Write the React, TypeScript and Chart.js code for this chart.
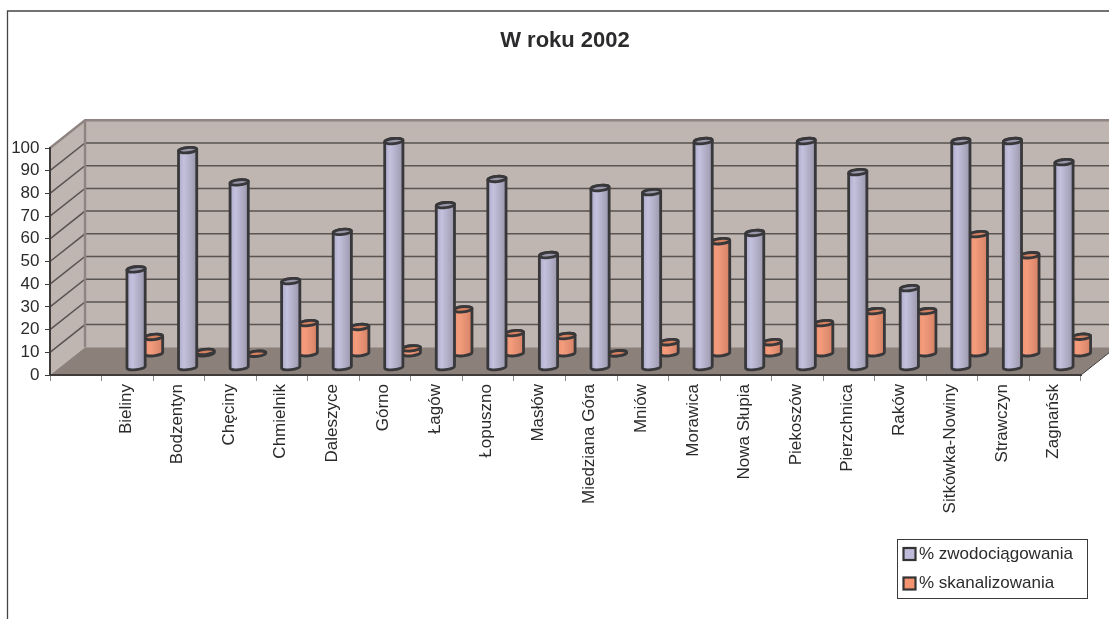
import React, { useEffect, useRef } from "react";
import { Chart, registerables, BarController, BarElement } from "chart.js";

const categories = ["", "Bieliny", "Bodzentyn", "Chęciny", "Chmielnik", "Daleszyce", "Górno", "Łagów", "Łopuszno", "Masłów", "Miedziana Góra", "Mniów", "Morawica", "Nowa Słupia", "Piekoszów", "Pierzchnica", "Raków", "Sitkówka-Nowiny", "Strawczyn", "Zagnańsk"];
const waterValues = [null, 43.5, 96, 81.8, 38.3, 60, 100, 71.8, 83.3, 49.8, 79.3, 77.5, 100, 59.5, 100, 86.3, 35.2, 100, 100, 90.7];
const sewerValues = [null, 7.6, 1, 0.2, 13.7, 12, 2.6, 19.8, 9.3, 8, 0.4, 5.3, 49.8, 5.3, 13.7, 19, 19, 52.9, 43.6, 7.7];
const titleText = "W roku 2002";
const waterLabel = "% zwodociągowania";
const sewerLabel = "% skanalizowania";

const FONT = "'Liberation Sans', Arial, sans-serif";
const DEPTH_X = 35;
const DEPTH_Y = 27.7;
const TEXT = "#2b2b2d";

const palette: Record<string, string[]> = {
  water: ["#aeaacb", "#c4c1de", "#aaa7bf", "#9a96aa", "#bfbcdb"],
  sewer: ["#ec9273", "#f59c7c", "#e08c70", "#d5805f", "#f4936f"],
};

class CylinderElement extends (BarElement as any) {
  static id = "cylinder";
  draw(ctx: CanvasRenderingContext2D) {
    const { x, y, base, width } = (this as any).getProps(["x", "y", "base", "width"]);
    const c = palette[(this as any).options.tone || "water"] || palette.water;
    const r = width / 2;
    const ry = 2.6;
    const rot = -0.1;
    ctx.save();
    const g = ctx.createLinearGradient(x - r, 0, x + r, 0);
    g.addColorStop(0, c[0]);
    g.addColorStop(0.3, c[1]);
    g.addColorStop(0.75, c[2]);
    g.addColorStop(1, c[3]);
    ctx.beginPath();
    ctx.ellipse(x, base - 0.5, r, ry, rot, Math.PI, 0, true);
    ctx.ellipse(x, y, r, ry, rot, 0, Math.PI, true);
    ctx.closePath();
    ctx.fillStyle = g;
    ctx.fill();
    ctx.lineWidth = 2.8;
    ctx.lineJoin = "round";
    ctx.strokeStyle = "#38383b";
    ctx.stroke();
    ctx.beginPath();
    ctx.ellipse(x, y, r, ry, rot, 0, Math.PI * 2);
    ctx.fillStyle = c[3];
    ctx.fill();
    ctx.stroke();
    ctx.restore();
  }
}

class CylinderController extends (BarController as any) {
  static id = "cylinder";
  static defaults = { dataElementType: "cylinder" };
  draw() {
    const self = this as any;
    const row = self.getDataset().depthRow;
    const ctx = self.chart.ctx;
    ctx.save();
    ctx.translate((DEPTH_X * row) / 4, (-DEPTH_Y * row) / 4);
    for (const el of self._cachedMeta.data) {
      el.options = { ...el.options, tone: self.getDataset().tone };
    }
    super.draw();
    ctx.restore();
  }
}

Chart.register(...registerables, CylinderElement as any, CylinderController as any);

const sceneBack = {
  id: "sceneBack",
  beforeDraw(chart: any) {
    const { ctx, scales } = chart;
    const xs = scales.x;
    const ys = scales.y;
    const l = xs.left, r = xs.right, b = ys.bottom, t = ys.top;
    const dx = DEPTH_X, dy = DEPTH_Y;
    ctx.save();
    ctx.fillStyle = "#ffffff";
    ctx.fillRect(0, 0, chart.width, chart.height);
    // outer frame
    ctx.strokeStyle = "#444444";
    ctx.lineWidth = 1.3;
    ctx.beginPath();
    ctx.moveTo(7.5, chart.height);
    ctx.lineTo(7.5, 11);
    ctx.lineTo(chart.width, 11);
    ctx.stroke();
    // walls
    ctx.fillStyle = "#bfb5b1";
    ctx.beginPath();
    ctx.moveTo(l, b);
    ctx.lineTo(l + dx, b - dy);
    ctx.lineTo(r + dx, b - dy);
    ctx.lineTo(r + dx, t - dy);
    ctx.lineTo(l + dx, t - dy);
    ctx.lineTo(l, t);
    ctx.closePath();
    ctx.fill();
    // grid lines
    ctx.lineWidth = 1.5;
    ctx.strokeStyle = "#5a5452";
    for (const tick of ys.ticks) {
      const y = ys.getPixelForValue(tick.value);
      if (tick.value === 0 || tick.value === 100) continue;
      ctx.beginPath();
      ctx.moveTo(l, y);
      ctx.lineTo(l + dx, y - dy);
      ctx.lineTo(r + dx, y - dy);
      ctx.stroke();
    }
    // floor
    ctx.fillStyle = "#8c807a";
    ctx.beginPath();
    ctx.moveTo(l, b);
    ctx.lineTo(l + dx, b - dy);
    ctx.lineTo(r + dx, b - dy);
    ctx.lineTo(r, b);
    ctx.closePath();
    ctx.fill();
    // wall edges
    ctx.strokeStyle = "#8f8481";
    ctx.lineWidth = 2.4;
    ctx.beginPath();
    ctx.moveTo(l, t);
    ctx.lineTo(l + dx, t - dy);
    ctx.lineTo(r + dx, t - dy);
    ctx.moveTo(l + dx, t - dy);
    ctx.lineTo(l + dx, b - dy);
    ctx.stroke();
    ctx.strokeStyle = "#3f3b3a";
    ctx.lineWidth = 1;
    ctx.beginPath();
    ctx.moveTo(r, b);
    ctx.lineTo(r + dx, b - dy);
    ctx.stroke();
    ctx.restore();
  },
};

const overlay = {
  id: "overlay",
  afterDraw(chart: any) {
    const { ctx } = chart;
    ctx.save();
    // title
    ctx.fillStyle = TEXT;
    ctx.font = `bold 22px ${FONT}`;
    ctx.textAlign = "center";
    ctx.textBaseline = "middle";
    ctx.fillText(titleText, 565, 41);
    // legend
    ctx.fillStyle = "#ffffff";
    ctx.fillRect(897, 539, 190, 59);
    ctx.strokeStyle = "#3a3a3a";
    ctx.lineWidth = 1;
    ctx.strokeRect(897.5, 539.5, 190, 59);
    ctx.font = `17px ${FONT}`;
    ctx.textAlign = "left";
    chart.data.datasets.forEach((ds: any, i: number) => {
      const y = 554 + i * 29.5;
      ctx.fillStyle = palette[ds.tone][4];
      ctx.fillRect(903.5, y - 6, 12, 12);
      ctx.strokeStyle = "#333333";
      ctx.lineWidth = 2.2;
      ctx.strokeRect(903.5, y - 6, 12, 12);
      ctx.fillStyle = TEXT;
      ctx.fillText(ds.label, 919, y);
    });
    ctx.restore();
  },
};

export default function App() {
  const ref = useRef<HTMLCanvasElement>(null);
  useEffect(() => {
    document.body.style.margin = "0";
    const chart = new Chart(ref.current!, {
      type: "bar",
      data: {
        labels: categories,
        datasets: [
          { type: "cylinder", label: waterLabel, data: waterValues, tone: "water", depthRow: 1, clip: false, backgroundColor: "#c0bddc", grouped: false, categoryPercentage: 1, barPercentage: 0.355 } as any,
          { type: "cylinder", label: sewerLabel, data: sewerValues, tone: "sewer", depthRow: 3, clip: false, backgroundColor: "#f4906c", grouped: false, categoryPercentage: 1, barPercentage: 0.355 } as any,
        ],
      },
      options: {
        animation: false,
        responsive: false,
        devicePixelRatio: 1,
        layout: { padding: { left: 0, right: 28, top: 148, bottom: 0 } },
        plugins: { legend: { display: false }, title: { display: false }, tooltip: { enabled: false } },
        scales: {
          x: {
            type: "category",
            offset: true,
            grid: { offset: true, drawOnChartArea: false, tickLength: 6, color: "#8a8a8a", lineWidth: 1 },
            border: { color: "#3f3b3a", width: 2 },
            ticks: { autoSkip: false, minRotation: 90, maxRotation: 90, padding: 3, labelOffset: -1.5, color: TEXT, font: { family: FONT, size: 17 } },
            afterFit: (s: any) => { s.height = 244; },
          },
          y: {
            min: 0,
            max: 100,
            grid: { drawOnChartArea: false, tickLength: 5, color: "#3f3b3a", lineWidth: 1 },
            border: { color: "#3f3b3a", width: 2 },
            ticks: { stepSize: 10, autoSkip: false, padding: 5.5, color: TEXT, font: { family: FONT, size: 17 } },
            afterFit: (s: any) => { s.width = 50; },
          },
        },
      },
      plugins: [sceneBack, overlay],
    } as any);
    return () => chart.destroy();
  }, []);
  return <canvas ref={ref} width={1109} height={619} style={{ display: "block", width: 1109, height: 619 }} />;
}
